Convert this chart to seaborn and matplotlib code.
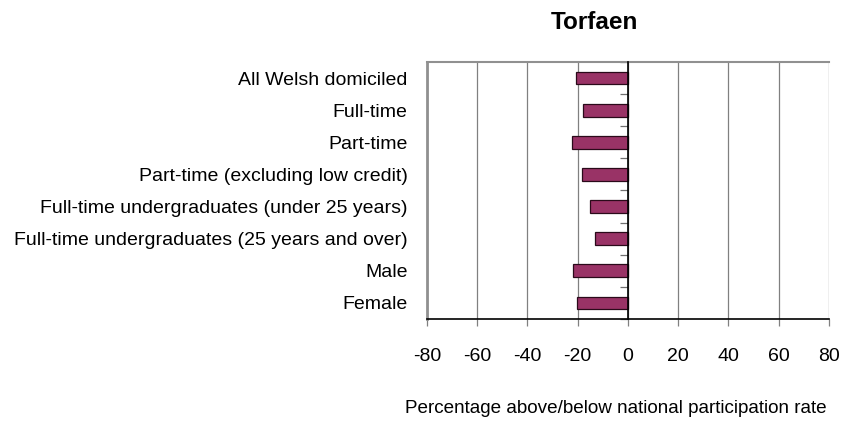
import seaborn as sns
import matplotlib.pyplot as plt
from matplotlib.ticker import MultipleLocator

# 数据
categories = [
    "All Welsh domiciled",
    "Full-time",
    "Part-time",
    "Part-time (excluding low credit)",
    "Full-time undergraduates (under 25 years)",
    "Full-time undergraduates (25 years and over)",
    "Male",
    "Female",
]
values = [-20.8, -18.0, -22.1, -18.5, -15.1, -13.2, -21.7, -20.1]
x_ticks = [-80, -60, -40, -20, 0, 20, 40, 60, 80]

sns.set_style("white")
plt.rcParams["font.family"] = ["Liberation Sans", "DejaVu Sans"]
plt.rcParams["text.color"] = "black"
plt.rcParams["xtick.color"] = "black"
plt.rcParams["ytick.color"] = "black"

fig = plt.figure(figsize=(8.46, 4.26), dpi=100)
ax = fig.add_axes([0.5047, 0.2512, 0.4752, 0.6033])

sns.barplot(x=values, y=categories, orient="h", width=0.4, color="#993366",
            saturation=1, edgecolor="#2a0a1a", linewidth=0.9, ax=ax, zorder=3)

ax.set_xlim(-80, 80)
ax.set_xticks(x_ticks)
ax.set_xticklabels([str(t) for t in x_ticks], fontsize=14)
ax.set_ylim(len(categories) - 0.5, -0.5)
ax.grid(axis="x", color="#808080", linewidth=0.9, zorder=0)
ax.grid(axis="y", visible=False)

# 边框
ax.spines["top"].set_color("#909090")
ax.spines["top"].set_linewidth(1.5)
ax.spines["left"].set_color("#909090")
ax.spines["left"].set_linewidth(2)
ax.spines["bottom"].set_color("black")
ax.spines["bottom"].set_linewidth(1.2)
ax.spines["right"].set_position(("data", 0))
ax.spines["right"].set_color("black")
ax.spines["right"].set_linewidth(1.2)
ax.spines["right"].set_zorder(4)

ax.tick_params(axis="x", bottom=True, length=5, width=0.9, color="#808080",
               pad=16)
ax.tick_params(axis="y", which="major", left=False, right=False,
               labelleft=True, labelsize=14, length=0, pad=14)
ax.yaxis.set_minor_locator(MultipleLocator(1, offset=0.5))
ax.tick_params(axis="y", which="minor", left=False, right=True,
               direction="in", length=6, width=0.9, color="#707070")
ax.set_xlabel("")
ax.set_ylabel("")

fig.text(0.703, 0.948, "Torfaen", ha="center", va="center",
         fontsize=17.5, fontweight="bold")
fig.text(0.728, 0.042, "Percentage above/below national participation rate",
         ha="center", va="center", fontsize=13.6)

fig.savefig("out.png", dpi=100)
